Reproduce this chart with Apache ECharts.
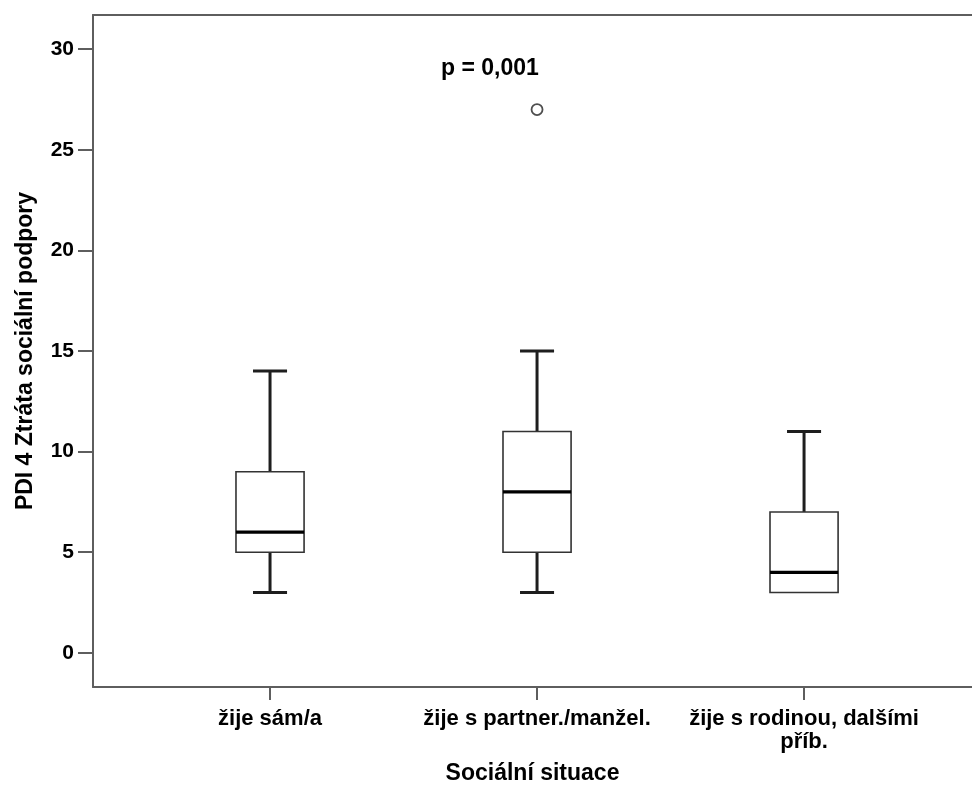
<!DOCTYPE html>
<html>
<head>
<meta charset="utf-8">
<script src="https://cdn.jsdelivr.net/npm/echarts@6/dist/echarts.min.js"></script>
<style>html,body{margin:0;padding:0;background:#fff}#c{width:972px;height:787px}</style>
</head>
<body>
<div id="c"></div>
<script>
// ---- data ----
const categories = ['žije sám/a', 'žije s partner./manžel.', 'žije s rodinou, dalšími\npříb.'];
const whiskerLow = [3, 3, 3];
const q1 = [5, 5, 3];
const median = [6, 8, 4];
const q3 = [9, 11, 7];
const whiskerHigh = [14, 15, 11];
const outliers = [[2, 27]]; // [category position, value]
const yTicks = [0, 5, 10, 15, 20, 25, 30];
const catPositions = [1, 2, 3];
const annotation = 'p = 0,001';
const xTitle = 'Sociální situace';
const yTitle = 'PDI 4 Ztráta sociální podpory';

const boxData = categories.map((c, i) => [catPositions[i], whiskerLow[i], q1[i], median[i], q3[i], whiskerHigh[i]]);

const FONT = 'Liberation Sans, Arial, sans-serif';
const AXIS_COLOR = '#5e5e5e';
const BOX_W = 0.255; // in category units

const chart = echarts.init(document.getElementById('c'), null, {renderer: 'canvas'});

function renderBox(params, api) {
  const x = api.value(0);
  const vLo = api.value(1), vQ1 = api.value(2), vQ3 = api.value(4), vHi = api.value(5);
  const lo = api.coord([x, vLo]);
  const b1 = api.coord([x, vQ1]);
  const md = api.coord([x, api.value(3)]);
  const b3 = api.coord([x, vQ3]);
  const hi = api.coord([x, vHi]);
  const w = api.size([BOX_W, 0])[0];
  const cx = lo[0];
  const half = w / 2, cap = w / 4;
  const wStyle = {stroke: '#1e1e1e', lineWidth: 3, fill: null};
  const children = [];
  if (vLo < vQ1) {
    children.push({type: 'line', shape: {x1: cx, y1: lo[1], x2: cx, y2: b1[1]}, style: wStyle});
    children.push({type: 'line', shape: {x1: cx - cap, y1: lo[1], x2: cx + cap, y2: lo[1]}, style: wStyle});
  }
  if (vHi > vQ3) {
    children.push({type: 'line', shape: {x1: cx, y1: b3[1], x2: cx, y2: hi[1]}, style: wStyle});
    children.push({type: 'line', shape: {x1: cx - cap, y1: hi[1], x2: cx + cap, y2: hi[1]}, style: wStyle});
  }
  children.push({type: 'rect', shape: {x: cx - half, y: b3[1], width: w, height: b1[1] - b3[1]},
    style: {fill: '#ffffff', stroke: '#333333', lineWidth: 1.6}});
  children.push({type: 'line', shape: {x1: cx - half, y1: md[1], x2: cx + half, y2: md[1]},
    style: {stroke: '#000000', lineWidth: 3.2}});
  return {type: 'group', children: children};
}

const option = {
  backgroundColor: '#ffffff',
  animation: false,
  grid: {left: 93, right: 0, top: 15, bottom: 100, containLabel: false, outerBoundsMode: 'none'},
  xAxis: [{
    type: 'value', min: 0.337, max: 3.629, position: 'bottom',
    axisLine: {show: true, onZero: false, lineStyle: {color: AXIS_COLOR, width: 2}},
    axisTick: {show: true, customValues: catPositions, length: 13, lineStyle: {color: AXIS_COLOR, width: 2}},
    axisLabel: {
      customValues: catPositions, margin: 20,
      formatter: v => categories[Math.round(v) - 1] || '',
      color: '#000', fontFamily: FONT, fontWeight: 'bold', fontSize: 22, lineHeight: 23
    },
    splitLine: {show: false},
    name: xTitle, nameLocation: 'middle', nameGap: 75,
    nameTextStyle: {color: '#000', fontFamily: FONT, fontWeight: 'bold', fontSize: 23}
  }, {
    type: 'value', min: 0.337, max: 3.629, position: 'top',
    axisLine: {show: true, onZero: false, lineStyle: {color: AXIS_COLOR, width: 2}},
    axisTick: {show: false}, axisLabel: {show: false}, splitLine: {show: false}
  }],
  yAxis: {
    type: 'value', min: -1.7, max: 31.7,
    axisLine: {show: true, onZero: false, lineStyle: {color: AXIS_COLOR, width: 2}},
    axisTick: {show: true, customValues: yTicks, length: 15, lineStyle: {color: AXIS_COLOR, width: 2}},
    axisLabel: {
      customValues: yTicks, margin: 19,
      color: '#000', fontFamily: FONT, fontWeight: 'bold', fontSize: 21
    },
    splitLine: {show: false},
    name: yTitle, nameLocation: 'middle', nameGap: 56, nameRotate: 90,
    nameTextStyle: {color: '#000', fontFamily: FONT, fontWeight: 'bold', fontSize: 23}
  },
  graphic: [{
    type: 'text', left: 441, top: 57,
    style: {text: annotation, fill: '#000', font: 'bold 23px ' + FONT}
  }],
  series: [{
    type: 'custom', xAxisIndex: 0, yAxisIndex: 0,
    renderItem: renderBox,
    encode: {x: 0, y: [1, 2, 3, 4, 5]},
    data: boxData, z: 3
  }, {
    type: 'scatter', xAxisIndex: 0, yAxisIndex: 0,
    data: outliers, symbol: 'circle', symbolSize: 11,
    itemStyle: {color: '#ffffff', borderColor: '#222222', borderWidth: 1.8}, z: 4
  }]
};
chart.setOption(option);
</script>
</body>
</html>
